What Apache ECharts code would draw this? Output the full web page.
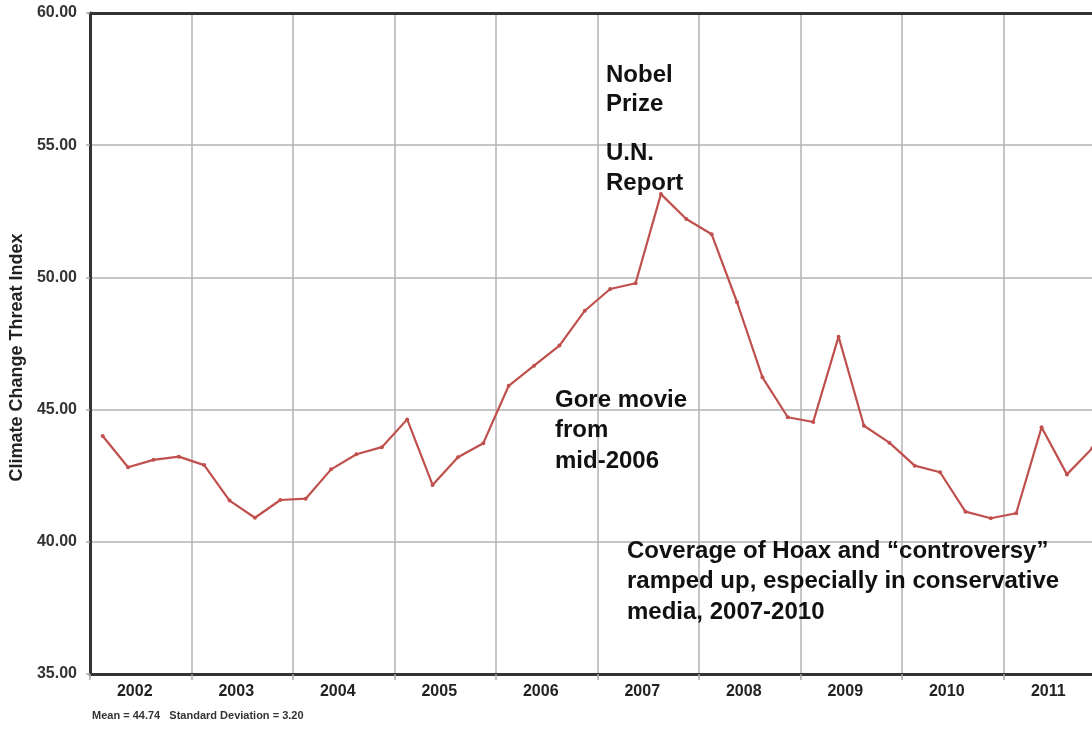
<!DOCTYPE html>
<html>
<head>
<meta charset="utf-8">
<script src="https://cdn.jsdelivr.net/npm/echarts@6/dist/echarts.min.js"></script>
<style>
html,body{margin:0;padding:0;background:#fff;}
#chart{width:1092px;height:729px;}
</style>
</head>
<body>
<div id="chart"></div>
<script>
// ---- data ----
var years = ['2002','2003','2004','2005','2006','2007','2008','2009','2010','2011'];
var quarters = ['Q1','Q2','Q3','Q4'];
var threatIndex = [
  44.00, 42.82, 43.10, 43.22,
  42.90, 41.56, 40.91, 41.58,
  41.63, 42.74, 43.31, 43.58,
  44.63, 42.15, 43.20, 43.73,
  45.90, 46.66, 47.42, 48.74,
  49.56, 49.78, 53.15, 52.21,
  51.63, 49.06, 46.22, 44.71,
  44.53, 47.76, 44.39, 43.75,
  42.88, 42.63, 41.14, 40.89,
  41.08, 44.33, 42.55, 43.54
];
var yTicks = [35, 40, 45, 50, 55, 60];
var yTitle = 'Climate Change Threat Index';
var footnote = 'Mean = 44.74   Standard Deviation = 3.20';
var notes = {
  nobel: 'Nobel\nPrize',
  un: 'U.N.\nReport',
  gore: 'Gore movie\nfrom\nmid-2006',
  hoax: 'Coverage of Hoax and \u201ccontroversy\u201d\nramped up, especially in conservative\nmedia, 2007-2010'
};

var quarterCats = [];
years.forEach(function (y) { quarters.forEach(function (q) { quarterCats.push(y + ' ' + q); }); });

var FONT = '"Liberation Sans", Arial, sans-serif';
var chart = echarts.init(document.getElementById('chart'));

function note(text, left, top, lh) {
  return {
    type: 'text', left: left, top: top, z: 100,
    style: { text: text, font: 'bold 24px ' + FONT, fill: '#111', lineHeight: lh }
  };
}

chart.setOption({
  animation: false,
  backgroundColor: '#fff',
  grid: { left: 90, top: 13, width: 1015, height: 661, containLabel: false, outerBoundsMode: 'none' },
  xAxis: [
    {
      type: 'category', data: quarterCats, boundaryGap: true, position: 'top',
      axisLine: { show: true, lineStyle: { color: '#333', width: 3 } },
      axisTick: { show: false }, axisLabel: { show: false }, splitLine: { show: false }
    },
    {
      type: 'category', data: years, boundaryGap: true, position: 'bottom',
      axisLine: { show: true, onZero: false, lineStyle: { color: '#333', width: 3 } },
      axisTick: { show: true, length: 6, lineStyle: { color: '#aaa', width: 1.5 } },
      axisLabel: {
        show: true, margin: 10, color: '#222', fontFamily: FONT, fontWeight: 'bold', fontSize: 16,
        padding: [0, 12, 0, 0]
      },
      splitLine: { show: true, lineStyle: { color: '#b3b3b3', width: 1.5 } }
    }
  ],
  yAxis: {
    type: 'value', min: yTicks[0], max: yTicks[yTicks.length - 1], interval: 5,
    name: yTitle, nameLocation: 'middle', nameGap: 64, nameRotate: 90,
    nameTextStyle: { fontFamily: FONT, fontWeight: 'bold', fontSize: 18, color: '#222', padding: [0, 28, 0, 0] },
    axisLine: { show: true, lineStyle: { color: '#333', width: 3 } },
    axisTick: { show: true, length: 4, lineStyle: { color: '#aaa', width: 1.5 } },
    axisLabel: {
      margin: 13, color: '#333', fontFamily: FONT, fontWeight: 'bold', fontSize: 16,
      formatter: function (v) { return v.toFixed(2); }
    },
    splitLine: { show: true, lineStyle: { color: '#b3b3b3', width: 1.5 } }
  },
  series: [{
    type: 'line', xAxisIndex: 0, data: threatIndex,
    symbol: 'circle', symbolSize: 4, showSymbol: true,
    lineStyle: { color: '#c0504d', width: 2.2 },
    itemStyle: { color: '#c0504d' },
    z: 5
  }],
  graphic: [
    note(notes.nobel, 606, 61, 29),
    note(notes.un, 606, 138, 30),
    note(notes.gore, 555, 385, 30.5),
    note(notes.hoax, 627, 536, 30.5),
    {
      type: 'text', left: 92, top: 710,
      style: { text: footnote, font: 'bold 11px ' + FONT, fill: '#333' }
    }
  ]
});
</script>
</body>
</html>
